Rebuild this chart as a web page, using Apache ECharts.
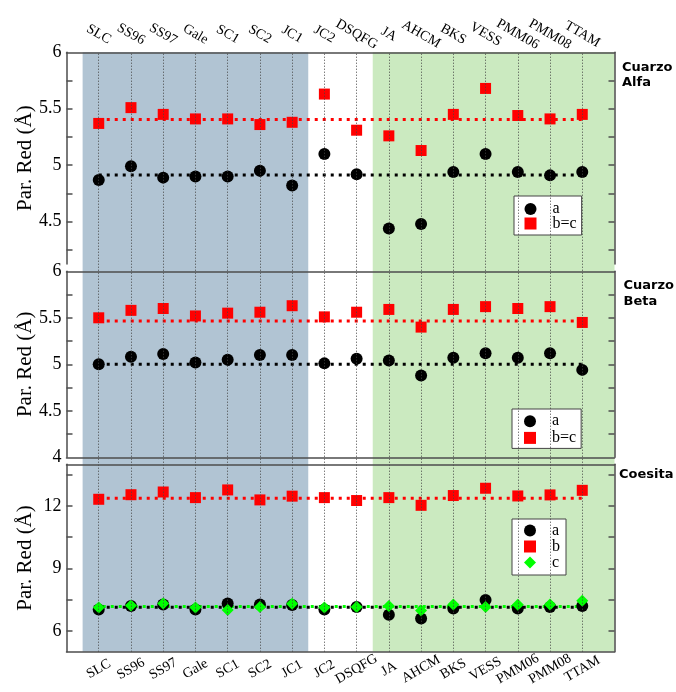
<!DOCTYPE html>
<html><head><meta charset="utf-8">
<script src="https://cdn.jsdelivr.net/npm/echarts@6/dist/echarts.min.js"></script>
<style>html,body{margin:0;padding:0;background:#fff}#c{width:676px;height:692px}</style>
</head><body><div id="c"></div>
<script>
// ---------------- data ----------------
const categories = ['SLC','SS96','SS97','Gale','SC1','SC2','JC1','JC2','DSQFG','JA','AHCM','BKS','VESS','PMM06','PMM08','TTAM'];
const blueGroup = ['SLC','JC1'];     // first..last category of the blue-grey band
const greenGroup = ['JA','TTAM'];    // first..last category of the green band

const alfaA  = [4.87,4.99,4.89,4.90,4.90,4.95,4.82,5.10,4.92,4.44,4.48,4.94,5.10,4.94,4.91,4.94];
const alfaBC = [5.37,5.51,5.45,5.41,5.41,5.36,5.38,5.63,5.31,5.26,5.13,5.45,5.68,5.44,5.41,5.45];
const alfaRef = {a: 4.913, bc: 5.405};

const betaA  = [5.00,5.08,5.11,5.02,5.05,5.10,5.10,5.01,5.06,5.04,4.88,5.07,5.12,5.07,5.12,4.94];
const betaBC = [5.50,5.58,5.60,5.52,5.55,5.56,5.63,5.51,5.56,5.59,5.40,5.59,5.62,5.60,5.62,5.45];
const betaRef = {a: 5.00, bc: 5.465};

const coesA = [7.03,7.19,7.27,7.03,7.32,7.27,7.24,7.03,7.15,6.77,6.60,7.08,7.48,7.07,7.15,7.19];
const coesB = [12.32,12.54,12.67,12.40,12.77,12.29,12.47,12.40,12.26,12.40,12.03,12.50,12.85,12.48,12.53,12.75];
const coesC = [7.12,7.22,7.32,7.12,7.00,7.15,7.30,7.12,7.15,7.20,6.98,7.27,7.15,7.25,7.27,7.45];
const coesRef = {a: 7.136, b: 12.369, c: 7.174};

const alfaTicks = [4.25,4.5,4.75,5,5.25,5.5,5.75];
const alfaLabels = [4.5,5,5.5,6];
const betaTicks = [4.25,4.5,4.75,5,5.25,5.5,5.75];
const betaLabels = [4,4.5,5,5.5,6];
const coesTicks = [6,7.5,9,10.5,12,13.5];
const coesLabels = [6,9,12];

const yTitle = 'Par. Red (Å)';
const panelTitles = ['Cuarzo\nAlfa','Cuarzo\nBeta','Coesita'];

// ---------------- layout / style ----------------
const xMin = -1, xMax = categories.length;
const L = 66.5, W = 548;
const P = [{top:52.3,h:211.7,min:4.125,max:6},{top:271.3,h:186,min:4,max:6},{top:464.3,h:187.4,min:5,max:14}];
const BG = {top:52.3, h:599.4};
const serif = 'Liberation Serif';
const frameColor = '#4d4d4d';
const frame = {show:true, onZero:false, lineStyle:{color:frameColor, width:1.5}};
const blue = '#b1c4d3', green = '#cbeac0';
const FS = 14, ROT = 30;

const topCats = [' '].concat(categories, ['  ']);
const botCats = [' '].concat(categories, ['  ']);
const catLabel = (margin) => ({interval:0, rotate:ROT, align:'center', verticalAlign:'middle', margin:margin, fontFamily:serif, fontSize:FS, color:'#000'});

// ---------------- axes ----------------
const grid = [{left:L, width:W, top:BG.top, height:BG.h}].concat(P.map(p=>({left:L, width:W, top:p.top, height:p.h})));
const hiddenX = (gi) => ({gridIndex:gi, type:'value', min:xMin, max:xMax, show:false, axisLine:{onZero:false}});
const lineX = (gi, pos) => ({gridIndex:gi, type:'value', min:xMin, max:xMax, position:pos, z:5, axisLine:frame, axisTick:{show:false}, axisLabel:{show:false}, splitLine:{show:false}});
const xAxis = [
  hiddenX(0),
  Object.assign(hiddenX(1), {position:'bottom'}),                     // 1 panel1 data
  {gridIndex:1, type:'category', position:'top', boundaryGap:false, data:topCats, z:5, axisLine:frame, axisTick:{show:false}, axisLabel:catLabel(18), splitLine:{show:false}}, // 2
  lineX(2,'bottom'),                                                  // 3 panel2 data
  lineX(2,'top'),                                                     // 4
  lineX(3,'top'),                                                     // 5 panel3 data
  {gridIndex:3, type:'category', position:'bottom', boundaryGap:false, data:botCats, z:5, axisLine:frame, axisTick:{show:false}, axisLabel:catLabel(17.3), splitLine:{show:false}} // 6
];
const tickSets = [[alfaTicks, alfaLabels],[betaTicks, betaLabels],[coesTicks, coesLabels]];
const yAxis = [{gridIndex:0, type:'value', min:0, max:1, show:false, axisLine:{onZero:false}}];
P.forEach((p,i)=>{
  const [tk, lb] = tickSets[i];
  yAxis.push({gridIndex:i+1, type:'value', min:p.min, max:p.max, position:'left', z:5,
    axisLine:frame, splitLine:{show:false},
    axisTick:{show:true, inside:true, length:6, customValues:tk, lineStyle:{color:frameColor, width:1.5}},
    axisLabel:{customValues:lb, fontFamily:serif, fontSize:18, color:'#000', margin:5},
    name:yTitle, nameLocation:'middle', nameGap:31, nameMoveOverlap:false,
    nameTextStyle:{fontFamily:serif, fontSize:21, color:'#000'}});
  yAxis.push({gridIndex:i+1, type:'value', min:p.min, max:p.max, position:'right', z:5,
    axisLine:frame, splitLine:{show:false},
    axisTick:{show:true, inside:true, length:6, customValues:tk, lineStyle:{color:frameColor, width:1.5}},
    axisLabel:{show:false}});
});

// ---------------- series ----------------
const pts = arr => categories.map((c,i)=>[i, arr[i]]);
const refLine = (xi, yi, v, color, offset) => ({type:'line', xAxisIndex:xi, yAxisIndex:yi, z:2, silent:true,
  data:[[0, v],[categories.length-1, v]], symbol:'none',
  lineStyle:{color:color, width:3, type:[3,5], dashOffset:offset||0}});
const sc = (name, xi, yi, arr, symbol, size, color) => ({type:'scatter', name:name, xAxisIndex:xi, yAxisIndex:yi, z:3,
  data:pts(arr), symbol:symbol, symbolSize:size, itemStyle:{color:color, opacity:1}});

const i0 = categories.indexOf(blueGroup[0]), i1 = categories.indexOf(blueGroup[1]);
const g0 = categories.indexOf(greenGroup[0]);
const series = [
  {type:'line', xAxisIndex:0, yAxisIndex:0, data:[], z:0, silent:true,
   markArea:{silent:true, data:[
     [{xAxis:i0-0.5, itemStyle:{color:blue}}, {xAxis:i1+0.5}],
     [{xAxis:g0-0.5, itemStyle:{color:green}}, {xAxis:xMax}]]},
   markLine:{silent:true, symbol:'none', label:{show:false}, animation:false,
     lineStyle:{type:[1,2], color:'#444', width:1},
     data:categories.map((c,i)=>({xAxis:i}))}},
  refLine(1,1,alfaRef.a,'#000'), refLine(1,1,alfaRef.bc,'#ff0000'),
  sc('a',1,1,alfaA,'circle',12,'#000'), sc('b=c',1,1,alfaBC,'rect',11,'#ff0000'),
  refLine(3,3,betaRef.a,'#000'), refLine(3,3,betaRef.bc,'#ff0000'),
  sc('a',3,3,betaA,'circle',12,'#000'), sc('b=c',3,3,betaBC,'rect',11,'#ff0000'),
  refLine(5,5,coesRef.a,'#000'), refLine(5,5,coesRef.c,'#00ff00',4), refLine(5,5,coesRef.b,'#ff0000'),
  sc('a',5,5,coesA,'circle',12,'#000'), sc('b',5,5,coesB,'rect',11,'#ff0000'), sc('c',5,5,coesC,'diamond',12,'#00ff00')
];

const legendBase = {orient:'vertical', selectedMode:false, itemWidth:12, itemHeight:12,
  backgroundColor:'#fff', borderColor:'#444', borderWidth:1, borderRadius:0,
  textStyle:{fontFamily:serif, fontSize:16, color:'#000', lineHeight:13, padding:[0,0,0,11]}};
const legend = [
  Object.assign({}, legendBase, {left:514, top:196, padding:[5,5,3.5,10.5], itemGap:-1.5,
    data:[{name:'a', icon:'circle'},{name:'b=c', icon:'rect'}]}),
  Object.assign({}, legendBase, {left:512, top:409, padding:[4.2,5,2.5,12], itemGap:0.7,
    data:[{name:'a', icon:'circle'},{name:'b=c', icon:'rect'}]}),
  Object.assign({}, legendBase, {left:512, top:519, padding:[3.5,6,4.5,12], itemGap:0,
    data:[{name:'a', icon:'circle'},{name:'b', icon:'rect'},{name:'c', icon:'diamond'}]})
];
const titleStyle = lh => ({fontFamily:'DejaVu Sans', fontWeight:'bold', fontSize:13, lineHeight:lh, color:'#000'});
const title = [
  {text:panelTitles[0], left:622, top:60, padding:0, textStyle:titleStyle(15)},
  {text:panelTitles[1], left:623.5, top:278, padding:0, textStyle:titleStyle(16)},
  {text:panelTitles[2], left:619, top:467, padding:0, textStyle:titleStyle(15)}
];

const chart = echarts.init(document.getElementById('c'), null, {renderer:'canvas'});
chart.setOption({animation:false, backgroundColor:'#fff', title, legend, grid, xAxis, yAxis, series});
</script></body></html>
